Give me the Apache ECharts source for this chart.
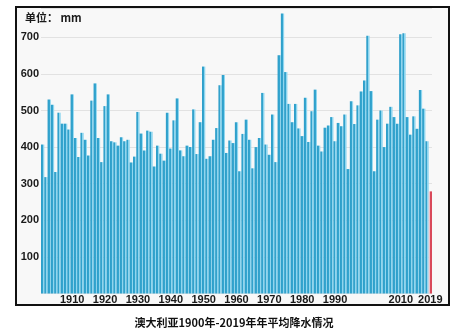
<!DOCTYPE html>
<html><head><meta charset="utf-8">
<script src="https://cdn.jsdelivr.net/npm/echarts@6/dist/echarts.min.js"></script>
<style>html,body{margin:0;padding:0;background:#fff}#c{width:471px;height:336px}</style>
</head><body><div id="c"></div>
<script>
// Categories: years 1901..2019
const years = [];
for (let y = 1901; y <= 2019; y++) years.push(String(y));

// Annual mean rainfall (mm)
const rainfall = [
  407, 318, 530, 516, 332, 494, 464, 464, 448, 544,
  425, 373, 439, 420, 377, 527, 574, 425, 359, 512,
  544, 416, 413, 404, 427, 416, 420, 358, 374, 496,
  437, 391, 445, 442, 347, 404, 382, 363, 494, 396,
  473, 533, 391, 375, 404, 400, 503, 381, 468, 620,
  368, 375, 420, 452, 569, 597, 384, 418, 411, 468,
  334, 436, 475, 420, 342, 400, 425, 548, 407, 379,
  489, 359, 651, 765, 605, 518, 468, 518, 451, 430,
  535, 414, 498, 557, 404, 388, 453, 459, 482, 416,
  466, 457, 489, 340, 525, 463, 514, 552, 582, 704,
  553, 334, 475, 500, 400, 464, 510, 482, 464, 708,
  711, 482, 434, 484, 450, 556, 505, 416, 279
];

const xTickLabels = ['1910','1920','1930','1940','1950','1960','1970','1980','1990','2010','2019'];
const yTickLabels = ['100','200','300','400','500','600','700'];
const highlightYear = '2019';
const unitText = '单位： mm';
const titleText = '澳大利亚1900年-2019年年平均降水情况';

const chart = echarts.init(document.getElementById('c'), null, {renderer: 'canvas'});

const blueGrad = new echarts.graphic.LinearGradient(0, 0, 1, 0, [
  {offset: 0, color: '#2d9dc8'}, {offset: 0.62, color: '#35a6d0'},
  {offset: 0.62, color: '#8fd6ef'}, {offset: 1, color: '#8fd6ef'}
]);
const redGrad = new echarts.graphic.LinearGradient(0, 0, 1, 0, [
  {offset: 0, color: '#f4c3c8'}, {offset: 0.5, color: '#f4c3c8'},
  {offset: 0.5, color: '#d9495a'}, {offset: 1, color: '#d9495a'}
]);

const seriesData = rainfall.map((v, i) => ({
  value: v,
  itemStyle: {color: years[i] === highlightYear ? redGrad : blueGrad}
}));

const labelFont = {fontFamily: 'Liberation Sans', fontWeight: 'bold', fontSize: 11, color: '#1a1a1a'};

chart.setOption({
  animation: false,
  backgroundColor: '#ffffff',
  graphic: [
    {type: 'rect', z: -10, shape: {x: 16, y: 7, width: 433, height: 298},
     style: {fill: '#f8f8f8', stroke: '#111', lineWidth: 2}},
    {type: 'text', x: 25, y: 18, z: 10,
     style: {text: unitText, fill: '#1a1a1a', font: 'bold 11px "Noto Sans CJK SC"', verticalAlign: 'middle'}},
    {type: 'text', x: 234, y: 323, z: 10,
     style: {text: titleText, fill: '#111', font: 'bold 11px "Noto Sans CJK SC"', align: 'center', verticalAlign: 'middle'}}
  ],
  grid: {left: 41, right: 39, top: 8, bottom: 42.5, containLabel: false},
  xAxis: {
    type: 'category',
    data: years,
    boundaryGap: true,
    axisLine: {show: false},
    axisTick: {show: false},
    axisLabel: Object.assign({}, labelFont, {
      margin: 1,
      interval: (idx, val) => xTickLabels.includes(val),
      formatter: v => v
    })
  },
  yAxis: {
    type: 'value',
    min: 0, max: 780, interval: 100,
    axisLine: {show: false},
    axisTick: {show: false},
    splitLine: {show: true, lineStyle: {color: '#e2e2e2', width: 1}},
    axisLabel: Object.assign({}, labelFont, {
      margin: 2,
      showMinLabel: false,
      showMaxLabel: false,
      formatter: v => yTickLabels.includes(String(v)) ? String(v) : ''
    })
  },
  series: [{
    type: 'bar',
    data: seriesData,
    barCategoryGap: '0%',
    barGap: '0%'
  }]
});
</script>
</body></html>
